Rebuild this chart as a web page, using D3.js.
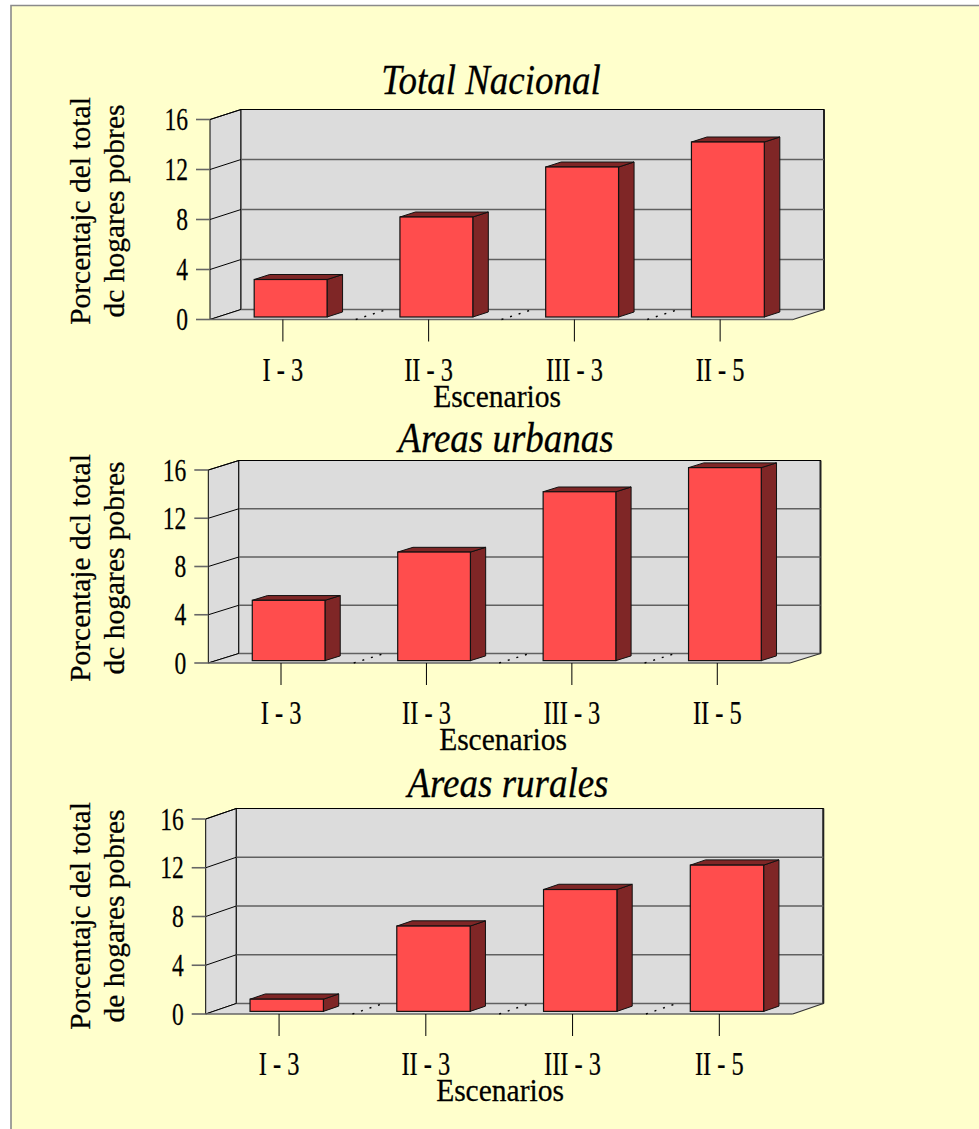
<!DOCTYPE html>
<html>
<head>
<meta charset="utf-8">
<script src="https://cdn.jsdelivr.net/npm/d3@7"></script>
<style>
  body { margin: 0; background: #ffffff; }
  text { font-family: "Liberation Serif", "Times New Roman", serif; fill: #000; stroke: #000; stroke-width: 0.25; }
</style>
</head>
<body>
<svg id="chart" width="979" height="1129"></svg>
<script>
// ---- data ----
const categories = ["I - 3", "II - 3", "III - 3", "II - 5"];
const totalNacional = [3, 8, 12, 14];
const areasUrbanas = [5, 9, 14, 16];
const areasRurales = [1, 7, 10, 12];
const yTicks = [0, 4, 8, 12, 16];
const titles = ["Total Nacional", "Areas urbanas", "Areas rurales"];
const yLabels = [
  ["Porcentajc del total", "dc hogares pobres"],
  ["Porcentaje dcl total", "dc hogares pobres"],
  ["Porcentajc del total", "de hogares pobres"]
];
const xTitle = "Escenarios";
const seriesList = [totalNacional, areasUrbanas, areasRurales];

// ---- layout of the three stacked panels ----
const panels = [
  { x0: 210,   x1: 793,   y0: 319.5, yTop: 119.5, dx: 31,   dy: -10,  titleX: 491, titleY: 94,  labelCY: 211, xTitleX: 497 },
  { x0: 208.3, x1: 790,   y0: 663,   yTop: 470,   dx: 30.5, dy: -9.5, titleX: 506, titleY: 452, labelCY: 568, xTitleX: 503 },
  { x0: 205.7, x1: 792.7, y0: 1014,  yTop: 819,   dx: 30.6, dy: -10.5, titleX: 508, titleY: 797, labelCY: 916, xTitleX: 500 }
];

const WALL = "#dcdcdc";
const FRONT = "#ff4d4d";
const SIDE = "#7f2626";

const svg = d3.select("#chart");

// pale yellow sheet with grey top/left border
svg.append("rect").attr("x", 11).attr("y", 5).attr("width", 979).attr("height", 1129).attr("fill", "#ffffcc");
svg.append("path").attr("d", "M11,1129 L11,5.5 L979,5.5").attr("fill", "none").attr("stroke", "#8a8a8a").attr("stroke-width", 1.6);

const poly = pts => "M" + pts.map(p => p.join(",")).join("L") + "Z";

panels.forEach((p, i) => {
  const values = seriesList[i];
  const g = svg.append("g");
  const x = d3.scaleBand().domain(categories).range([p.x0, p.x1]);
  const y = d3.scaleLinear().domain([0, 16]).range([p.y0, p.yTop]);
  const bw = x.bandwidth();
  const { dx, dy } = p;

  // side wall, floor, back wall
  g.append("path").attr("d", poly([[p.x0, p.y0], [p.x0, p.yTop], [p.x0 + dx, p.yTop + dy], [p.x0 + dx, p.y0 + dy]]))
    .attr("fill", WALL).attr("stroke", "#000").attr("stroke-width", 1);
  g.append("path").attr("d", poly([[p.x0, p.y0], [p.x1, p.y0], [p.x1 + dx, p.y0 + dy], [p.x0 + dx, p.y0 + dy]]))
    .attr("fill", WALL).attr("stroke", "none");
  g.append("rect").attr("x", p.x0 + dx).attr("y", p.yTop + dy)
    .attr("width", p.x1 - p.x0).attr("height", p.y0 - p.yTop)
    .attr("fill", WALL).attr("stroke", "#000").attr("stroke-width", 1);
  g.append("line").attr("x1", p.x1 + dx).attr("x2", p.x1 + dx).attr("y1", p.yTop + dy).attr("y2", p.y0 + dy)
    .attr("stroke", "#222").attr("stroke-width", 2);

  // gridlines on back wall and side wall, value ticks and labels
  yTicks.forEach(t => {
    const yy = y(t);
    g.append("line").attr("x1", p.x0 + dx).attr("x2", p.x1 + dx).attr("y1", yy + dy).attr("y2", yy + dy)
      .attr("stroke", t === 16 ? "#000" : "#606060").attr("stroke-width", t === 16 ? 1 : 1.6);
    g.append("line").attr("x1", p.x0).attr("x2", p.x0 + dx).attr("y1", yy).attr("y2", yy + dy)
      .attr("stroke", "#000").attr("stroke-width", 1);
    g.append("line").attr("x1", p.x0 - 14).attr("x2", p.x0).attr("y1", yy).attr("y2", yy)
      .attr("stroke", "#666").attr("stroke-width", 1.6);
    g.append("text").attr("transform", `translate(${p.x0 - 22},${yy + 10.5}) scale(0.76,1)`)
      .attr("text-anchor", "end").attr("font-size", 31).text(t);
  });

  // floor front and right edges
  g.append("line").attr("x1", p.x0).attr("x2", p.x1).attr("y1", p.y0).attr("y2", p.y0)
    .attr("stroke", "#666").attr("stroke-width", 1.6);
  g.append("line").attr("x1", p.x1).attr("x2", p.x1 + dx).attr("y1", p.y0).attr("y2", p.y0 + dy)
    .attr("stroke", "#333").attr("stroke-width", 1.2);

  // dotted depth guides between categories
  categories.slice(1).forEach(c => {
    const bx = x(c);
    g.append("line").attr("x1", bx).attr("y1", p.y0).attr("x2", bx + dx).attr("y2", p.y0 + dy)
      .attr("stroke", "#000").attr("stroke-width", 1.4).attr("stroke-dasharray", "2,7");
  });

  // category ticks and labels
  categories.forEach(c => {
    const cx = x(c) + bw / 2;
    g.append("line").attr("x1", cx).attr("x2", cx).attr("y1", p.y0).attr("y2", p.y0 + 22)
      .attr("stroke", "#000").attr("stroke-width", 1);
    g.append("text").attr("transform", `translate(${cx},${p.y0 + 61}) scale(0.74,1)`)
      .attr("text-anchor", "middle").attr("font-size", 33).text(c);
  });

  // 3D bars: front face sits a quarter of the way into the depth, bar depth is half
  const fx = dx * 0.25, fy = dy * 0.25, bdx = dx * 0.5, bdy = dy * 0.5;
  categories.forEach((c, k) => {
    const v = values[k];
    const xl = x(c) + bw * 0.25 + fx;
    const xr = xl + bw * 0.5;
    const yb = y(0) + fy;
    const yt = y(v) + fy;
    g.append("path").attr("d", poly([[xr, yt], [xr + bdx, yt + bdy], [xr + bdx, yb + bdy], [xr, yb]]))
      .attr("fill", SIDE).attr("stroke", "#111").attr("stroke-width", 1);
    g.append("path").attr("d", poly([[xl, yt], [xr, yt], [xr + bdx, yt + bdy], [xl + bdx, yt + bdy]]))
      .attr("fill", SIDE).attr("stroke", "#111").attr("stroke-width", 1);
    g.append("rect").attr("x", xl).attr("y", yt).attr("width", xr - xl).attr("height", yb - yt)
      .attr("fill", FRONT).attr("stroke", "#111").attr("stroke-width", 1.2);
  });

  // titles
  g.append("text").attr("transform", `translate(${p.titleX},${p.titleY}) scale(1,1.12)`)
    .attr("text-anchor", "middle").attr("font-size", 37).attr("font-style", "italic").text(titles[i]);
  g.append("text").attr("transform", `translate(${p.xTitleX},${p.y0 + 87}) scale(1,1.05)`)
    .attr("text-anchor", "middle").attr("font-size", 29.5).text(xTitle);

  // rotated y-axis label, two lines
  [90, 124].forEach((bx, j) => {
    g.append("text").attr("transform", `translate(${bx},${p.labelCY}) rotate(-90)`)
      .attr("text-anchor", "middle").attr("font-size", 29.5).text(yLabels[i][j]);
  });
});
</script>
</body>
</html>
